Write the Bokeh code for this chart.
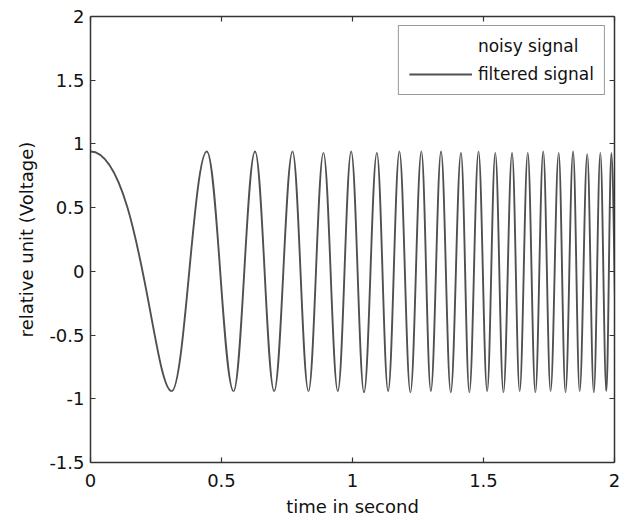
from bokeh.plotting import figure
from bokeh.models import (LinearAxis, Range1d, FixedTicker, Legend, LegendItem,
                          ColumnDataSource)
from bokeh.embed import file_html
from bokeh.resources import INLINE

# ---- data ----
# alternating extrema (peak, trough, peak, ...) of the filtered signal
extreme_t = [0.0, 0.31, 0.444, 0.546, 0.628, 0.701, 0.771, 0.832, 0.889, 0.944,
             0.995, 1.044, 1.093, 1.136, 1.179, 1.221, 1.263, 1.299, 1.338, 1.375,
             1.414, 1.446, 1.481, 1.514, 1.545, 1.576, 1.609, 1.638, 1.669, 1.698,
             1.728, 1.756, 1.787, 1.813, 1.842, 1.867, 1.896, 1.921, 1.946, 1.969,
             1.988, 2.012]
extreme_v = [0.94, -0.94, 0.94, -0.94, 0.94, -0.94, 0.94, -0.94, 0.93, -0.94,
             0.94, -0.95, 0.93, -0.94, 0.94, -0.95, 0.94, -0.94, 0.94, -0.95,
             0.93, -0.95, 0.94, -0.94, 0.93, -0.95, 0.93, -0.94, 0.93, -0.95,
             0.94, -0.94, 0.93, -0.95, 0.94, -0.94, 0.92, -0.95, 0.93, -0.94,
             0.93, -0.94]

x_ticks = [0, 0.5, 1, 1.5, 2]
x_tick_labels = ["0", "0.5", "1", "1.5", "2"]
y_ticks = [-1.5, -1, -0.5, 0, 0.5, 1, 1.5, 2]
y_tick_labels = ["-1.5", "-1", "-0.5", "0", "0.5", "1", "1.5", "2"]

series_labels = ["noisy signal", "filtered signal"]

# ---- styles ----
FONT = "DejaVu Sans"
FS = "18px"
LEG_FS = "17px"
LINE_COLOR = "#505050"
AXIS_COLOR = "#333333"

# half-wave shape: horizontal tangents at each extremum (cubic Bezier)
n = min(len(extreme_t), len(extreme_v)) - 1
c_start = [0.60] + [0.364] * (n - 1)   # first half-wave of the chirp is slower at its start
c_end = [0.22] + [0.364] * (n - 1)
x0 = extreme_t[:n]
x1 = extreme_t[1:n + 1]
y0 = extreme_v[:n]
y1 = extreme_v[1:n + 1]
cx0 = [a + c * (b - a) for a, b, c in zip(x0, x1, c_start)]
cx1 = [b - c * (b - a) for a, b, c in zip(x0, x1, c_end)]
src = ColumnDataSource(dict(x0=x0, y0=y0, x1=x1, y1=y1, cx0=cx0, cy0=y0, cx1=cx1, cy1=y1))

p = figure(width=630, height=519, x_range=Range1d(0, 2), y_range=Range1d(-1.5, 2),
           output_backend="svg", toolbar_location=None,
           min_border_left=90, min_border_right=16, min_border_top=16, min_border_bottom=55)
p.grid.visible = False
p.outline_line_color = None
p.background_fill_color = "white"
p.border_fill_color = "white"

noisy_r = p.line(x=[], y=[], line_alpha=0)
filt_r = p.bezier(x0="x0", y0="y0", x1="x1", y1="y1", cx0="cx0", cy0="cy0",
                  cx1="cx1", cy1="cy1", source=src, line_color=LINE_COLOR, line_width=1.9)


def style_axis(ax, ticks, labels, show_labels=True):
    ax.ticker = FixedTicker(ticks=ticks)
    ax.minor_tick_line_color = None
    ax.major_tick_in = 5
    ax.major_tick_out = 0
    ax.axis_line_color = AXIS_COLOR
    ax.axis_line_width = 1.5
    ax.major_tick_line_color = AXIS_COLOR
    ax.major_tick_line_width = 1.2
    ax.major_label_text_font = FONT
    if show_labels:
        ax.major_label_overrides = {t: l for t, l in zip(ticks, labels)}
        ax.major_label_text_font_size = FS
        ax.major_label_text_color = "#111111"
    else:
        ax.major_label_overrides = {t: "" for t in ticks}
        ax.major_label_text_font_size = "1px"
        ax.major_label_text_color = None
        ax.major_label_standoff = 0


style_axis(p.xaxis[0], x_ticks, x_tick_labels)
style_axis(p.yaxis[0], y_ticks, y_tick_labels)
p.xaxis[0].major_label_standoff = 11
p.yaxis[0].major_label_standoff = 6
p.xaxis[0].axis_label = "time in second"
p.yaxis[0].axis_label = "relative unit (Voltage)"
for ax in (p.xaxis[0], p.yaxis[0]):
    ax.axis_label_text_font = FONT
    ax.axis_label_text_font_size = FS
    ax.axis_label_text_font_style = "normal"
    ax.axis_label_text_color = "#111111"
p.xaxis[0].axis_label_standoff = 6
p.yaxis[0].axis_label_standoff = 9

top_ax = LinearAxis()
style_axis(top_ax, x_ticks, x_tick_labels, show_labels=False)
p.add_layout(top_ax, "above")
right_ax = LinearAxis()
style_axis(right_ax, y_ticks, y_tick_labels, show_labels=False)
p.add_layout(right_ax, "right")

legend = Legend(items=[LegendItem(label=series_labels[0], renderers=[noisy_r]),
                       LegendItem(label=series_labels[1], renderers=[filt_r])],
                location="top_right")
legend.margin = 9
legend.padding = 10
legend.spacing = 8
legend.glyph_width = 63
legend.glyph_height = 20
legend.label_height = 20
legend.label_standoff = 6
legend.label_text_font = FONT
legend.label_text_font_size = LEG_FS
legend.label_text_color = "#111111"
legend.border_line_color = AXIS_COLOR
legend.border_line_width = 1.5
legend.background_fill_color = "white"
legend.background_fill_alpha = 1.0
p.add_layout(legend, "center")

open("out.html", "w").write(file_html(p, INLINE))
